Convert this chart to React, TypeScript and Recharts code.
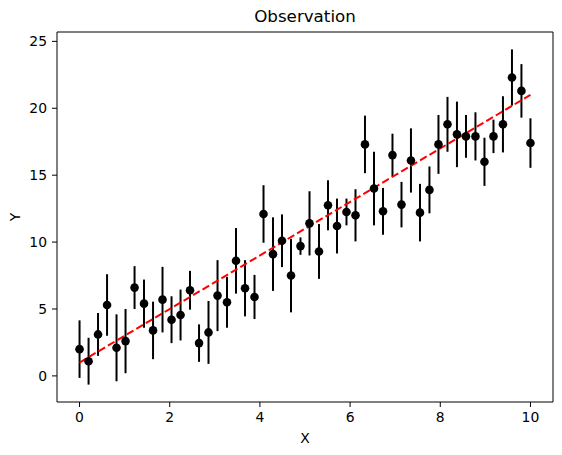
import React from 'react';
import {
  ComposedChart,
  Scatter,
  ErrorBar,
  XAxis,
  YAxis,
  ReferenceLine,
  Label,
} from 'recharts';

// observations (x from 0 to 10, 50 points)
const xs = [
  0, 0.2, 0.41, 0.61, 0.82, 1.02, 1.22, 1.43, 1.63, 1.84,
  2.04, 2.24, 2.45, 2.65, 2.86, 3.06, 3.27, 3.47, 3.67, 3.88,
  4.08, 4.29, 4.49, 4.69, 4.9, 5.1, 5.31, 5.51, 5.71, 5.92,
  6.12, 6.33, 6.53, 6.73, 6.94, 7.14, 7.35, 7.55, 7.76, 7.96,
  8.16, 8.37, 8.57, 8.78, 8.98, 9.18, 9.39, 9.59, 9.8, 10,
];
const ys = [
  2.0, 1.1, 3.1, 5.3, 2.1, 2.6, 6.6, 5.4, 3.4, 5.7,
  4.2, 4.55, 6.4, 2.45, 3.25, 6.0, 5.5, 8.6, 6.55, 5.9,
  12.1, 9.1, 10.1, 7.5, 9.7, 11.4, 9.3, 12.75, 11.2, 12.25,
  12.0, 17.3, 14.0, 12.3, 16.5, 12.8, 16.1, 12.2, 13.9, 17.3,
  18.8, 18.05, 17.9, 17.9, 16.0, 17.9, 18.8, 22.3, 21.3, 17.4,
];
const errs = [
  2.15, 1.75, 1.6, 2.3, 2.5, 2.4, 1.6, 1.8, 2.15, 2.45,
  1.75, 1.9, 1.45, 1.4, 2.35, 2.65, 1.9, 2.45, 2.1, 1.65,
  2.15, 2.75, 1.97, 2.75, 0.65, 2.4, 2.05, 1.87, 2.05, 1.0,
  1.95, 2.15, 2.75, 1.75, 1.6, 1.7, 2.4, 2.15, 1.75, 2.2,
  2.05, 2.45, 1.6, 1.8, 1.8, 1.25, 2.1, 2.1, 2.0, 1.85,
];

// fitted line y = 2x + 1
const fitX = [0, 10];
const fitY = [1, 21];

const xTicks = [0, 2, 4, 6, 8, 10];
const yTicks = [0, 5, 10, 15, 20, 25];

const data = xs.map((x, i) => ({ x, y: ys[i], err: errs[i] }));

const FONT = '"DejaVu Sans", sans-serif';

const Dot = (props: any) => (
  <circle cx={props.cx} cy={props.cy} r={4.3} fill="#000" />
);

const App: React.FC = () => {
  return (
    <div style={{ position: 'absolute', left: 0, top: 0, width: 562, height: 455, background: '#fff', fontFamily: FONT }}>
      <div
        style={{
          position: 'absolute',
          left: 57,
          width: 496,
          top: 6,
          textAlign: 'center',
          fontSize: 16.7,
          color: '#000',
        }}
      >
        Observation
      </div>
      <ComposedChart
        width={562}
        height={455}
        data={data}
        margin={{ top: 32, right: 9, bottom: 0, left: 0 }}
      >
        <XAxis
          dataKey="x"
          type="number"
          domain={[-0.5, 10.5]}
          ticks={xTicks}
          height={53}
          stroke="#000"
          tickSize={5}
          tickMargin={5}
          tick={{ fill: '#000', fontSize: 13.9, fontFamily: FONT }}
          allowDataOverflow
        >
          <Label value="X" position="insideBottom" offset={12} fill="#000" fontSize={13.9} fontFamily={FONT} />
        </XAxis>
        <YAxis
          dataKey="y"
          type="number"
          domain={[-1.95, 25.7]}
          ticks={yTicks}
          width={57}
          stroke="#000"
          tickSize={5}
          tickMargin={5}
          tick={{ fill: '#000', fontSize: 13.9, fontFamily: FONT }}
          allowDataOverflow
        >
          <Label
            content={() => (
              <text x={15} y={217} transform="rotate(-90 15 217)" textAnchor="middle" dominantBaseline="central" fill="#000" fontSize={13.9} fontFamily={FONT}>
                Y
              </text>
            )}
          />
        </YAxis>
        <Scatter dataKey="y" shape={Dot} isAnimationActive={false}>
          <ErrorBar dataKey="err" direction="y" width={0} stroke="#000" strokeWidth={2} isAnimationActive={false} />
        </Scatter>
        <ReferenceLine
          segment={[
            { x: fitX[0], y: fitY[0] },
            { x: fitX[1], y: fitY[1] },
          ]}
          stroke="#ff0000"
          strokeWidth={2}
          strokeDasharray="7.7 3.3"
        />
        {/* frame */}
        <ReferenceLine y={25.7} stroke="#000" />
        <ReferenceLine x={10.5} stroke="#000" />
      </ComposedChart>
    </div>
  );
};

export default App;
